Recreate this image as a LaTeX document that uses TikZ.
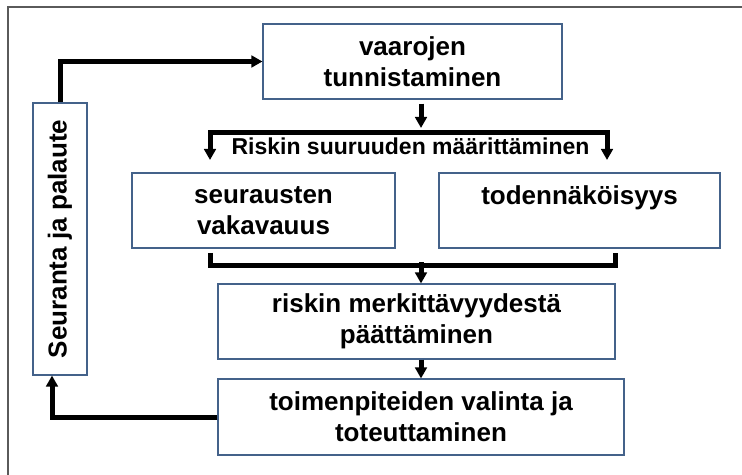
\documentclass[tikz,border=0pt]{standalone}
\usepackage{fontspec}
\setmainfont{Liberation Sans}
\usetikzlibrary{arrows.meta,calc,positioning}
\definecolor{boxblue}{RGB}{68,98,138}
\definecolor{framegray}{RGB}{90,90,90}

\begin{document}
\begin{tikzpicture}[x=0.5pt,y=-0.5pt,line join=miter,>={Triangle[length=5.5pt,width=5.8pt]}]
		\tikzstyle{box}=[draw=boxblue,line width=0.55pt,inner sep=0pt,align=center,font=\bfseries\fontsize{13pt}{15.5pt}\selectfont,minimum height=37.5pt]
		\tikzstyle{flow}=[->,line width=2.5pt]
		\tikzstyle{bar}=[line width=2.5pt]

		\useasboundingbox (0,0) rectangle (742,475);
		%frame
		\draw[framegray,line width=0.6pt] (8,475) -- (8,7) -- (742,7);

		%boxes
		\node[box,minimum width=149.5pt] (vaarojen) at (412.5,61.5) {vaarojen\\tunnistaminen};
		\node[box,rotate=90,minimum width=136pt,minimum height=27pt] (seuranta) at (60,239) {Seuranta ja palaute};
		\node[box,minimum width=131.5pt] (seurausten) at (263.5,210.5) {seurausten\\vakavauus};
		\node[box,minimum width=140.5pt] (todennak) at (579.5,210.5) {todennäköisyys\\\mbox{}};
		\node[box,minimum width=198.5pt] (riskin) at (416.5,321.5) {riskin merkittävyydestä\\päättäminen};
		\node[box,minimum width=203pt,minimum height=38pt] (toimen) at (421,417) {toimenpiteiden valinta ja\\toteuttaminen};

		%label
		\node[font=\bfseries\fontsize{11.5pt}{14pt}\selectfont,anchor=base] (koko) at (410.5,155) {Riskin suuruuden määrittäminen};

		%split
		\coordinate (split) at (421,133);
		\coordinate (splitL) at (210,160);
		\coordinate (splitR) at (607,160);
		\draw[flow] ($(vaarojen.south -| split)+(0,4)$) -- ($(split)+(0,-5)$);
		\draw[bar,<->] (splitL) |- (split) -| (splitR);

		%merge
		\coordinate (merge) at (421,265);
		\coordinate (joinL) at (210,253);
		\coordinate (joinR) at (615,253);
		\draw[bar] (joinL) |- (merge) -| (joinR);
		\draw[flow] ($(merge)+(0,-3)$) -- (merge |- riskin.north);
		\draw[flow] (riskin.south -| toimen.north) -- (toimen.north);

		%feedback
		\draw[flow] (toimen.west) -| ($(seuranta.west)+(-8,0)$);
		\draw[flow] (seuranta.east) |- (vaarojen.west);
	\end{tikzpicture}
\end{document}
